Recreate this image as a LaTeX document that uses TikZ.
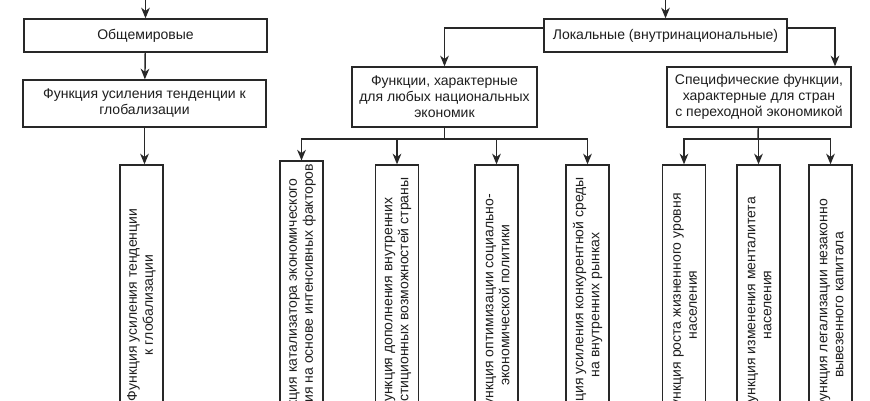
\documentclass[tikz,border=0pt]{standalone}
\usepackage{fontspec}
\setmainfont{Liberation Sans}
\usepackage{xcolor}
\usetikzlibrary{arrows.meta}
\definecolor{fnline}{RGB}{40,40,40}
\definecolor{fntext}{RGB}{30,30,30}

\begin{document}
\begin{tikzpicture}[
  x=0.75pt, y=-0.75pt,
  box/.style={draw=fnline, line width=1pt, align=center, text=fntext,
              font=\fontsize{10.5}{12}\selectfont, inner sep=2pt},
  vbox/.style={box, rotate=90, minimum width=210pt, minimum height=32.25pt},
  arr/.style={-{Stealth[length=8pt,width=6.5pt,inset=2.5pt]}, line width=1.1pt, fnline},
  link/.style={line width=1.1pt, fnline}
]
\useasboundingbox (0,0) rectangle (870,400);
\clip (0,0) rectangle (870,400);
\fill[white] (0,0) rectangle (870,400);

% upper level
\node[box, minimum width=182.25pt, minimum height=24.75pt] (world) at (145.5,35.5) {Общемировые};
\node[box, minimum width=182.25pt, minimum height=35.25pt] (trend) at (144.5,103.5)
  {Функция усиления тенденции к\\глобализации};
\node[box, minimum width=182.25pt, minimum height=24.75pt] (local) at (665.5,35.5)
  {Локальные (внутринациональные)};
\node[box, minimum width=138.75pt, minimum height=45pt] (national) at (444.5,97)
  {Функции, характерные\\для любых национальных\\экономик};
\node[box, minimum width=138pt, minimum height=45pt] (specific) at (759,97)
  {Специфические функции,\\характерные для стран\\с переходной экономикой};

% vertical function boxes
\node[vbox] (v1) at (141.5,305) {Функция усиления тенденции\\к глобализации};
\node[vbox] (v2) at (301.5,305) {Функция катализатора экономического\\развития на основе интенсивных факторов};
\node[vbox] (v3) at (397,305) {Функция дополнения внутренних\\инвестиционных возможностей страны};
\node[vbox] (v4) at (496.5,305) {Функция оптимизации социально-\\экономической политики};
\node[vbox] (v5) at (587.5,305) {Функция усиления конкурентной среды\\на внутренних рынках};
\node[vbox] (v6) at (684,305) {Функция роста жизненного уровня\\населения};
\node[vbox] (v7) at (758.5,305) {Функция изменения менталитета\\населения};
\node[vbox] (v8) at (830.5,305) {Функция легализации незаконно\\вывезенного капитала};

% connectors
\coordinate (wtop) at (145.5,-10);
\coordinate (ltop) at (665.5,-10);
\coordinate (nbus) at (444.5,139);
\coordinate (sbus) at (758,139);
\draw[arr] (wtop) -- (world);
\draw[arr] (world) -- (trend);
\draw[arr] (trend.south) -- (trend.south |- v1.east);
\draw[arr] (ltop) -- (local);
\draw[arr] ([yshift=5.6pt]local.west) -| (national.north);
\draw[arr] ([yshift=5.6pt]local.east) -| ([xshift=57pt]specific.north);
\draw[link] (national) -- (nbus);
\draw[link] (specific) -- (sbus);
\foreach \v in {v2,v3,v4,v5}
  \draw[arr] (nbus) -| (\v.east);
\foreach \v in {v6,v7,v8}
  \draw[arr] (sbus) -| (\v.east);
\end{tikzpicture}
\end{document}
